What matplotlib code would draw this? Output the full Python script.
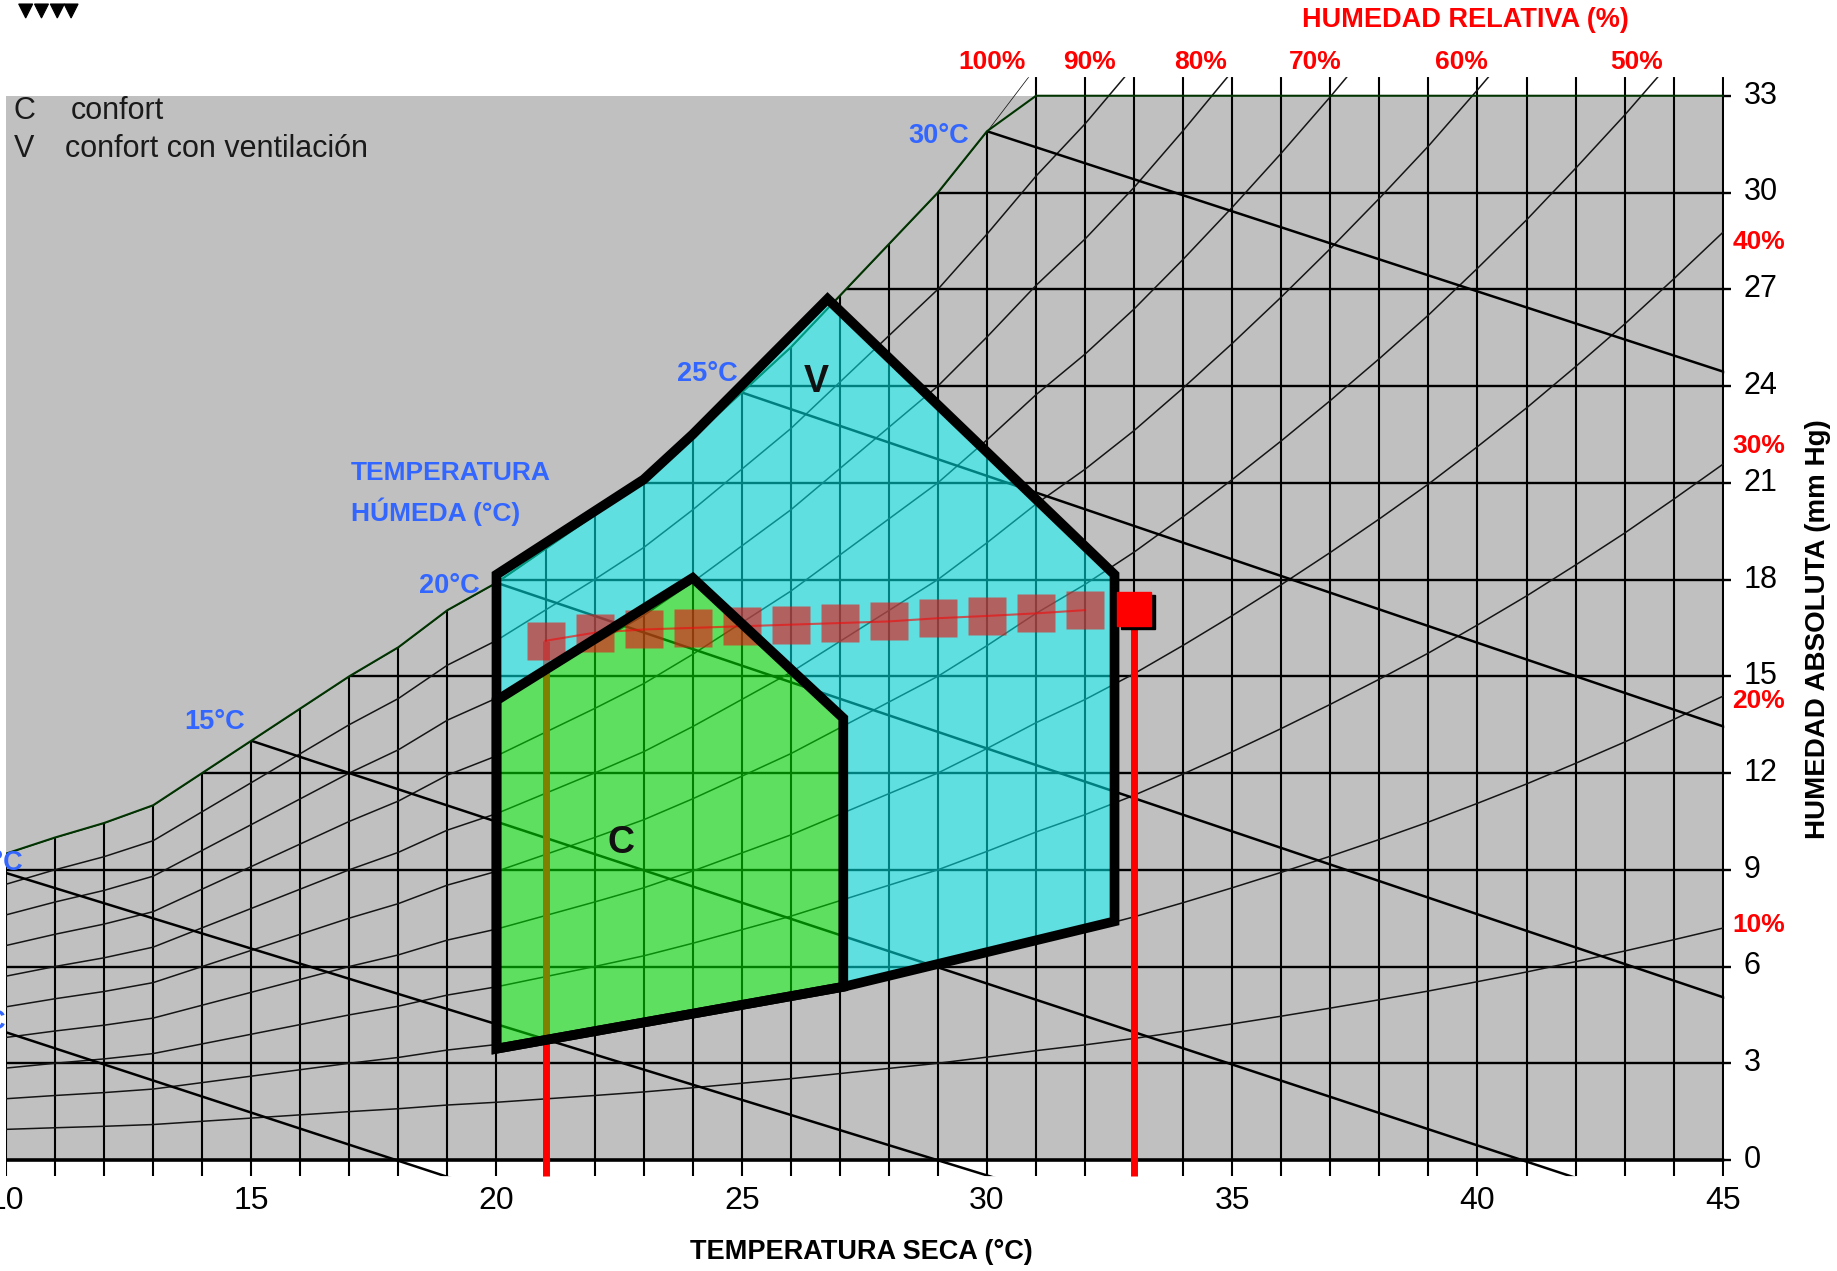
import numpy as np
import matplotlib
matplotlib.use("Agg")
import matplotlib.pyplot as plt
from matplotlib.patches import Polygon, Rectangle

# ---------------------------------------------------------------- data --
# dry-bulb temperature (degC) and saturation vapour pressure (mm Hg)
temp_c = list(range(10, 46))
sat_mmhg = [9.5, 10.0, 10.45, 11.0, 12.0, 13.0, 14.0, 15.0, 15.9, 17.05,
            17.9, 18.95, 20.0, 21.1, 22.4, 23.8, 25.2, 26.8, 28.4, 30.0,
            31.9, 33.9, 35.7, 37.7, 39.9, 42.2, 44.6, 47.1, 49.7, 52.4,
            55.3, 58.3, 61.5, 64.8, 68.3, 71.9]

rh_levels = [100, 90, 80, 70, 60, 50, 40, 30, 20, 10]
rh_top_labels = ["100%", "90%", "80%", "70%", "60%", "50%"]
rh_top_t = [30.1, 32.08, 34.36, 36.69, 39.67, 43.25]
rh_right_labels = ["40%", "30%", "20%", "10%"]
rh_right_e = [28.47, 22.13, 14.24, 7.29]

ah_ticks = list(range(0, 34, 3))
tdb_ticks = list(range(10, 46, 5))

# wet-bulb lines: start point on the saturation curve, end point on the frame
wb_temp = [5, 10, 15, 20, 25, 30]
wb_start_t = [5.0, 10.0, 15.0, 20.0, 25.0, 30.0]
wb_start_e = [6.45, 8.9, 13.0, 17.9, 23.8, 31.9]
wb_end_t = [17.95, 28.98, 40.9, 45.0, 45.0, 45.0]
wb_end_e = [0.0, 0.0, 0.0, 5.05, 13.45, 24.45]
wb_label_t = [10.0, 10.34, 14.87, 19.65, 24.92, 29.63]
wb_label_e = [4.28, 9.22, 13.58, 17.8, 24.37, 31.76]

# comfort zones (V: comfort with ventilation, C: comfort)
zone_v_t = [20.0, 23.0, 24.0, 26.75, 32.6, 32.6, 27.07, 20.0]
zone_v_e = [18.15, 21.1, 22.5, 26.7, 18.15, 7.4, 5.37, 3.45]
zone_c_t = [20.0, 24.0, 27.07, 27.07, 20.0]
zone_c_e = [14.25, 18.05, 13.7, 5.37, 3.45]

# hourly conditions of the day
series_t = [21, 22, 23, 24, 25, 26, 27, 28, 29, 30, 31, 32]
series_e = [16.1, 16.35, 16.45, 16.5, 16.55, 16.6, 16.65, 16.7, 16.8, 16.87,
            16.95, 17.05]
point_t, point_e = 33, 17.1
tmin_t, tmax_t = 21, 33

# ---------------------------------------------------------------- figure --
W, H = 1837, 1271
fig = plt.figure(figsize=(W / 100, H / 100), dpi=100)
ax = fig.add_axes([6 / W, 78.75 / H, 1765.8 / W, 1161 / H])
ax.set_xlim(10, 46)
ax.set_ylim(-1, 35)
ax.axis("off")

SANS = ["Liberation Sans", "DejaVu Sans"]
NARROW = ["Liberation Sans Narrow", "Liberation Sans", "DejaVu Sans"]
BLUE = "#3366ff"

ax.add_patch(Rectangle((10, 0), 35, 33, fc="#c0c0c0", ec="none", zorder=0))

# region below the saturation curve where the chart grid is drawn
top_cap = 33.58
tf = np.linspace(10, 45, 1401)
top = np.minimum(np.interp(tf, temp_c, sat_mmhg), top_cap)
clip_verts = [(9.95, -0.5), (45.03, -0.5), (45.03, top_cap)]
clip_verts += list(zip(tf[::-1], top[::-1])) + [(9.95, top[0])]
clip = Polygon(clip_verts, closed=True, transform=ax.transData)


def clipped(line):
    line.set_clip_path(clip)
    return line


# vertical grid (1 degC) with bottom ticks
for t in temp_c:
    ln, = ax.plot([t, t], [-0.49, 34.5], color="black", lw=1.5, zorder=2,
                  solid_capstyle="butt")
    clipped(ln)

# horizontal grid (3 mm Hg)
for e in ah_ticks[:-1]:
    ln, = ax.plot([9.9, 45.1], [e, e], color="black",
                  lw=2.6 if e == 0 else 1.7, zorder=2)
    clipped(ln)
    ax.plot([45, 45.17], [e, e], color="black", lw=1.7, zorder=2,
            solid_capstyle="butt")
ax.plot([45, 45.17], [33, 33], color="black", lw=1.7, zorder=2,
        solid_capstyle="butt")

# relative humidity curves
sat = np.array(sat_mmhg)
for rh in rh_levels:
    ln, = ax.plot(temp_c, rh / 100 * sat, color="#151515", lw=1.1, zorder=2)
    clipped(ln)

# wet-bulb lines
for t0, e0, t1, e1 in zip(wb_start_t, wb_start_e, wb_end_t, wb_end_e):
    slope = (e1 - e0) / (t1 - t0)
    t_end = t0 + (-0.6 - e0) / slope
    ln, = ax.plot([t0, t_end], [e0, -0.6], color="black", lw=1.8, zorder=2)
    clipped(ln)

# chart border: saturation curve and top edge
n30 = temp_c.index(30) + 1
ax.plot(temp_c[:n30] + [31, 45], sat_mmhg[:n30] + [33, 33],
        color="#003300", lw=1.5, zorder=2.2)

# daily minimum / maximum temperature markers
ax.plot([tmin_t, tmin_t], [-0.49, series_e[0]], color="red", lw=5,
        zorder=3, solid_capstyle="butt")
ax.plot([tmax_t, tmax_t], [-0.49, point_e], color="red", lw=5,
        zorder=3, solid_capstyle="butt")

# comfort zones
v_ring = list(zip(zone_v_t[:7], zone_v_e[:7])) + \
    [(zone_c_t[i], zone_c_e[i]) for i in (2, 1, 0)]
ax.add_patch(Polygon(v_ring, closed=True, fc="#00ffff", ec="none",
                     alpha=0.5, zorder=4))
ax.add_patch(Polygon(list(zip(zone_c_t, zone_c_e)), closed=True,
                     fc="#00ff00", ec="none", alpha=0.5, zorder=4))

ax.plot(series_t, series_e, color="red", lw=1.5, marker="s", ms=27,
        mfc=(0.9, 0.08, 0.08), mec="none", alpha=0.62, zorder=4.5)

ax.add_patch(Polygon(list(zip(zone_v_t, zone_v_e)), closed=True, fc="none",
                     ec="black", lw=7, joinstyle="miter", zorder=5))
ax.add_patch(Polygon(list(zip(zone_c_t, zone_c_e)), closed=True, fc="none",
                     ec="black", lw=7, joinstyle="miter", zorder=5))

ax.plot(point_t + 0.08, point_e - 0.12, marker="s", ms=25, color="black",
        zorder=5.5, ls="none")
ax.plot(point_t, point_e, marker="s", ms=25, color="red", zorder=5.6,
        ls="none")

ax.text(26.51, 24.13, "V", fontsize=27, family=SANS, weight="bold",
        ha="center", va="center", color="#111111", zorder=7)
ax.text(22.53, 9.84, "C", fontsize=27, family=SANS, weight="bold",
        ha="center", va="center", color="#111111", zorder=7)

# legend
ax.text(10.16, 32.52, "C", fontsize=22, family=SANS, ha="left", va="center",
        color="#1a1a1a", zorder=7)
ax.text(11.33, 32.52, "confort", fontsize=22, family=SANS, ha="left",
        va="center", color="#1a1a1a", zorder=7)
ax.text(10.16, 31.35, "V", fontsize=22, family=SANS, ha="left", va="center",
        color="#1a1a1a", zorder=7)
ax.text(11.21, 31.35, "confort con ventilación", fontsize=22, family=SANS,
        ha="left", va="center", color="#1a1a1a", zorder=7)

# wet-bulb labels
for tw, lt, le in zip(wb_temp, wb_label_t, wb_label_e):
    ax.text(lt, le, f"{tw}°C", fontsize=19.5, family=SANS, weight="bold",
            color=BLUE, ha="right", va="center", zorder=7)
ax.text(17.03, 21.3, "TEMPERATURA", fontsize=19, family=SANS,
        weight="bold", color=BLUE, ha="left", va="center", zorder=7)
ax.text(17.03, 20.1, "HÚMEDA (°C)", fontsize=19, family=SANS,
        weight="bold", color=BLUE, ha="left", va="center", zorder=7)

# relative humidity labels
for lab, t in zip(rh_top_labels, rh_top_t):
    ax.text(t, 34.06, lab, fontsize=19, family=SANS, weight="bold",
            color="red", ha="center", va="center")
for lab, e in zip(rh_right_labels, rh_right_e):
    ax.text(45.2, e, lab, fontsize=19, family=SANS, weight="bold",
            color="red", ha="left", va="center")
ax.text(39.75, 35.35, "HUMEDAD RELATIVA (%)", fontsize=19.5, family=SANS,
        weight="bold", color="red", ha="center", va="center")

# axis tick labels and titles
for e in ah_ticks:
    ax.text(45.42, e, str(e), fontsize=22, family=NARROW, ha="left",
            va="center", color="black")
for t in tdb_ticks:
    ax.text(t, -1.27, str(t), fontsize=23, family=NARROW, ha="center",
            va="center", color="black")
ax.text(27.43, -2.85, "TEMPERATURA SECA (°C)", fontsize=19.5, family=SANS,
        weight="bold", ha="center", va="center", color="black")
ax.text(46.94, 16.45, "HUMEDAD ABSOLUTA (mm Hg)", fontsize=20, family=SANS,
        weight="bold", ha="center", va="center", rotation=90, color="black")

# small sun emblem in the corner
for tip in (25.7, 41.5, 57.3, 71.1):
    tri = [(tip - 7, H - 4), (tip + 7, H - 4), (tip, H - 18)]
    fig.add_artist(Polygon(tri, closed=True, fc="black", ec="black", lw=0.8,
                           transform=None))

fig.savefig("out.png", dpi=100, facecolor="white")
